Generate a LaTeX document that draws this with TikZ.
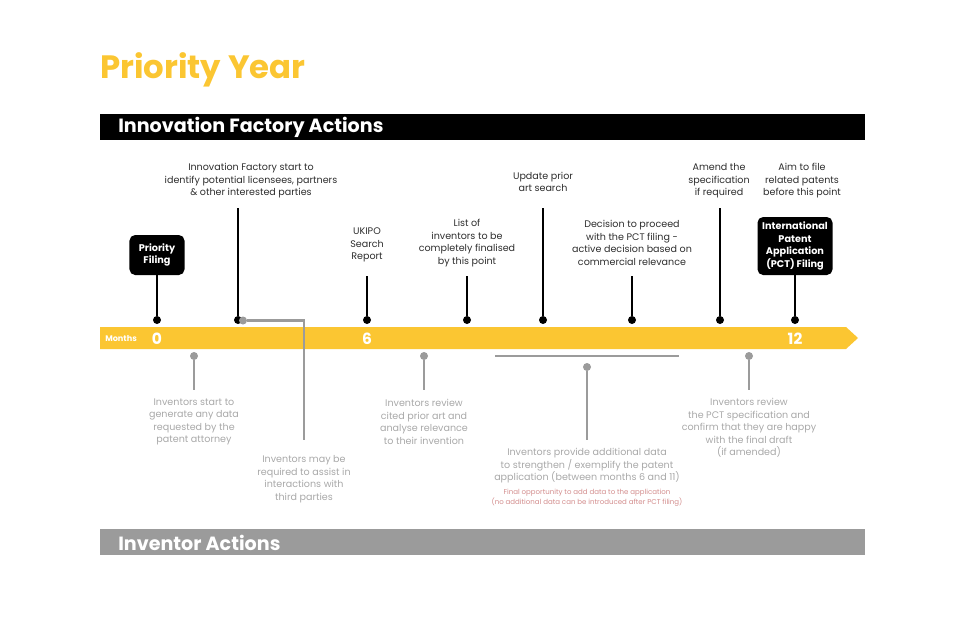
\documentclass[tikz,border=0pt]{standalone}
\usepackage{fontspec}
\setmainfont{Poppins}
\usetikzlibrary{positioning}
\definecolor{pyellow}{RGB}{251,198,50}
\definecolor{invgray}{RGB}{155,155,155}
\definecolor{txtgray}{RGB}{168,168,168}
\definecolor{notepink}{RGB}{210,140,140}
\definecolor{txtdark}{RGB}{45,45,45}

\begin{document}
\begin{tikzpicture}[x=0.025cm, y=-0.025cm,
    lbl/.style={font=\fontsize{6.8}{8.9}\selectfont, text=txtdark, align=center, inner sep=0pt},
    invlbl/.style={lbl, text=txtgray},
    dot/.style={circle, fill=black, inner sep=0pt, minimum size=0.2cm},
    gdot/.style={dot, fill=invgray},
    stem/.style={line width=2pt, black},
    gstem/.style={line width=1.8pt, invgray},
    eventbox/.style={fill=black, rounded corners=4pt, text=white, inner sep=1pt,
        font=\fontsize{6.9}{8.8}\selectfont\bfseries, align=center},
    bartext/.style={anchor=west, text=white, inner sep=0pt, font=\fontsize{13.6}{15}\selectfont\bfseries},
    monthnum/.style={text=white, inner sep=0pt, font=\fontsize{11}{12}\selectfont\bfseries},
]
\useasboundingbox (0,0) rectangle (960,627);

% --- Title and section bars ---
\node[anchor=west, inner sep=0pt, text=pyellow, font=\fontsize{23}{25}\selectfont\bfseries] (title) at (100,70) {Priority Year};
\fill[black] (100,114) rectangle (865,140);
\node[bartext] (ifbar) at (118,127.5) {Innovation Factory Actions};
\fill[invgray] (100,529) rectangle (865,555);
\node[bartext] (invbar) at (118,542.5) {Inventor Actions};

% --- Timeline ---
\fill[pyellow] (100,327) -- (846,327) -- (858,338) -- (846,349) -- (100,349) -- cycle;
\node[anchor=west, text=white, inner sep=0pt, font=\fontsize{5.8}{7}\selectfont\bfseries] (months) at (105,338.5) {Months};
\node[monthnum] (m0) at (157,339) {0};
\node[monthnum] (m6) at (367,339) {6};
\node[monthnum] (m12) at (795,339) {12};

% --- Innovation Factory events ---
\node[eventbox, minimum width=1.375cm, minimum height=1cm] (prio) at (157,255) {Priority\\Filing};
\node[dot] (d0) at (157,320) {};
\draw[stem] (prio) -- (d0);

\node[lbl] (licence) at (251,181) {Innovation Factory start to\\identify potential licensees, partners\\\& other interested parties};
\coordinate (t1) at (238,208);
\node[dot] (d1) at (238,320) {};
\draw[stem] (t1) -- (d1);

\node[lbl] (ukipo) at (367,245) {UKIPO\\Search\\Report};
\coordinate (t2) at (367,276);
\node[dot] (d2) at (367,320) {};
\draw[stem] (t2) -- (d2);

\node[lbl] (list) at (467,243) {List of\\inventors to be\\completely finalised\\by this point};
\coordinate (t3) at (467,276);
\node[dot] (d3) at (467,320) {};
\draw[stem] (t3) -- (d3);

\node[lbl] (update) at (543,182) {Update prior\\art search};
\coordinate (t4) at (543,208);
\node[dot] (d4) at (543,320) {};
\draw[stem] (t4) -- (d4);

\node[lbl] (decide) at (632,243) {Decision to proceed\\with the PCT filing -\\active decision based on\\commercial relevance};
\coordinate (t5) at (632,276);
\node[dot] (d5) at (632,320) {};
\draw[stem] (t5) -- (d5);

\node[lbl] (amend) at (719,181) {Amend the\\specification\\if required};
\coordinate (t6) at (720,208);
\node[dot] (d6) at (720,320) {};
\draw[stem] (t6) -- (d6);

\node[lbl] (aim) at (802,181) {Aim to file\\related patents\\before this point};
\node[eventbox, minimum width=1.875cm, minimum height=1.45cm] (pct) at (795,246) {International\\Patent\\Application\\(PCT) Filing};
\node[dot] (d7) at (795,320) {};
\draw[stem] (pct) -- (d7);

% --- Inventor events ---
\node[gdot] (g1) at (194,356) {};
\coordinate (b1) at (194,390);
\draw[gstem] (g1) -- (b1);
\node[invlbl] (gendata) at (194,422) {Inventors start to\\generate any data\\requested by the\\patent attorney};

\node[gdot] (g2) at (243,320.5) {};
\coordinate (g2bend) at (304,320.5);
\coordinate (b2) at (304,440);
\draw[gstem] (g2) -- (g2bend) -- (b2);
\node[invlbl] (assist) at (304,479) {Inventors may be\\required to assist in\\interactions with\\third parties};

\node[gdot] (g3) at (424,356) {};
\coordinate (b3) at (424,390);
\draw[gstem] (g3) -- (b3);
\node[invlbl] (review) at (424,422) {Inventors review\\cited prior art and\\analyse relevance\\to their invention};

\coordinate (spanl) at (495,356);
\coordinate (spanr) at (679,356);
\draw[gstem] (spanl) -- (spanr);
\node[gdot] (g4) at (587,367) {};
\coordinate (b4) at (587,440);
\draw[gstem] (g4) -- (b4);
\node[invlbl] (provide) at (587,466) {Inventors provide additional data\\to strengthen / exemplify the patent\\application (between months 6 and 11)};
\node[lbl, text=notepink, font=\fontsize{5}{7}\selectfont] (finalnote) at (587,498) {Final opportunity to add data to the application\\(no additional data can be introduced after PCT filing)};

\node[gdot] (g5) at (749,356) {};
\coordinate (b5) at (749,390);
\draw[gstem] (g5) -- (b5);
\node[invlbl] (confirm) at (749,428) {Inventors review\\the PCT specification and\\confirm that they are happy\\with the final draft\\(if amended)};
\end{tikzpicture}
\end{document}
